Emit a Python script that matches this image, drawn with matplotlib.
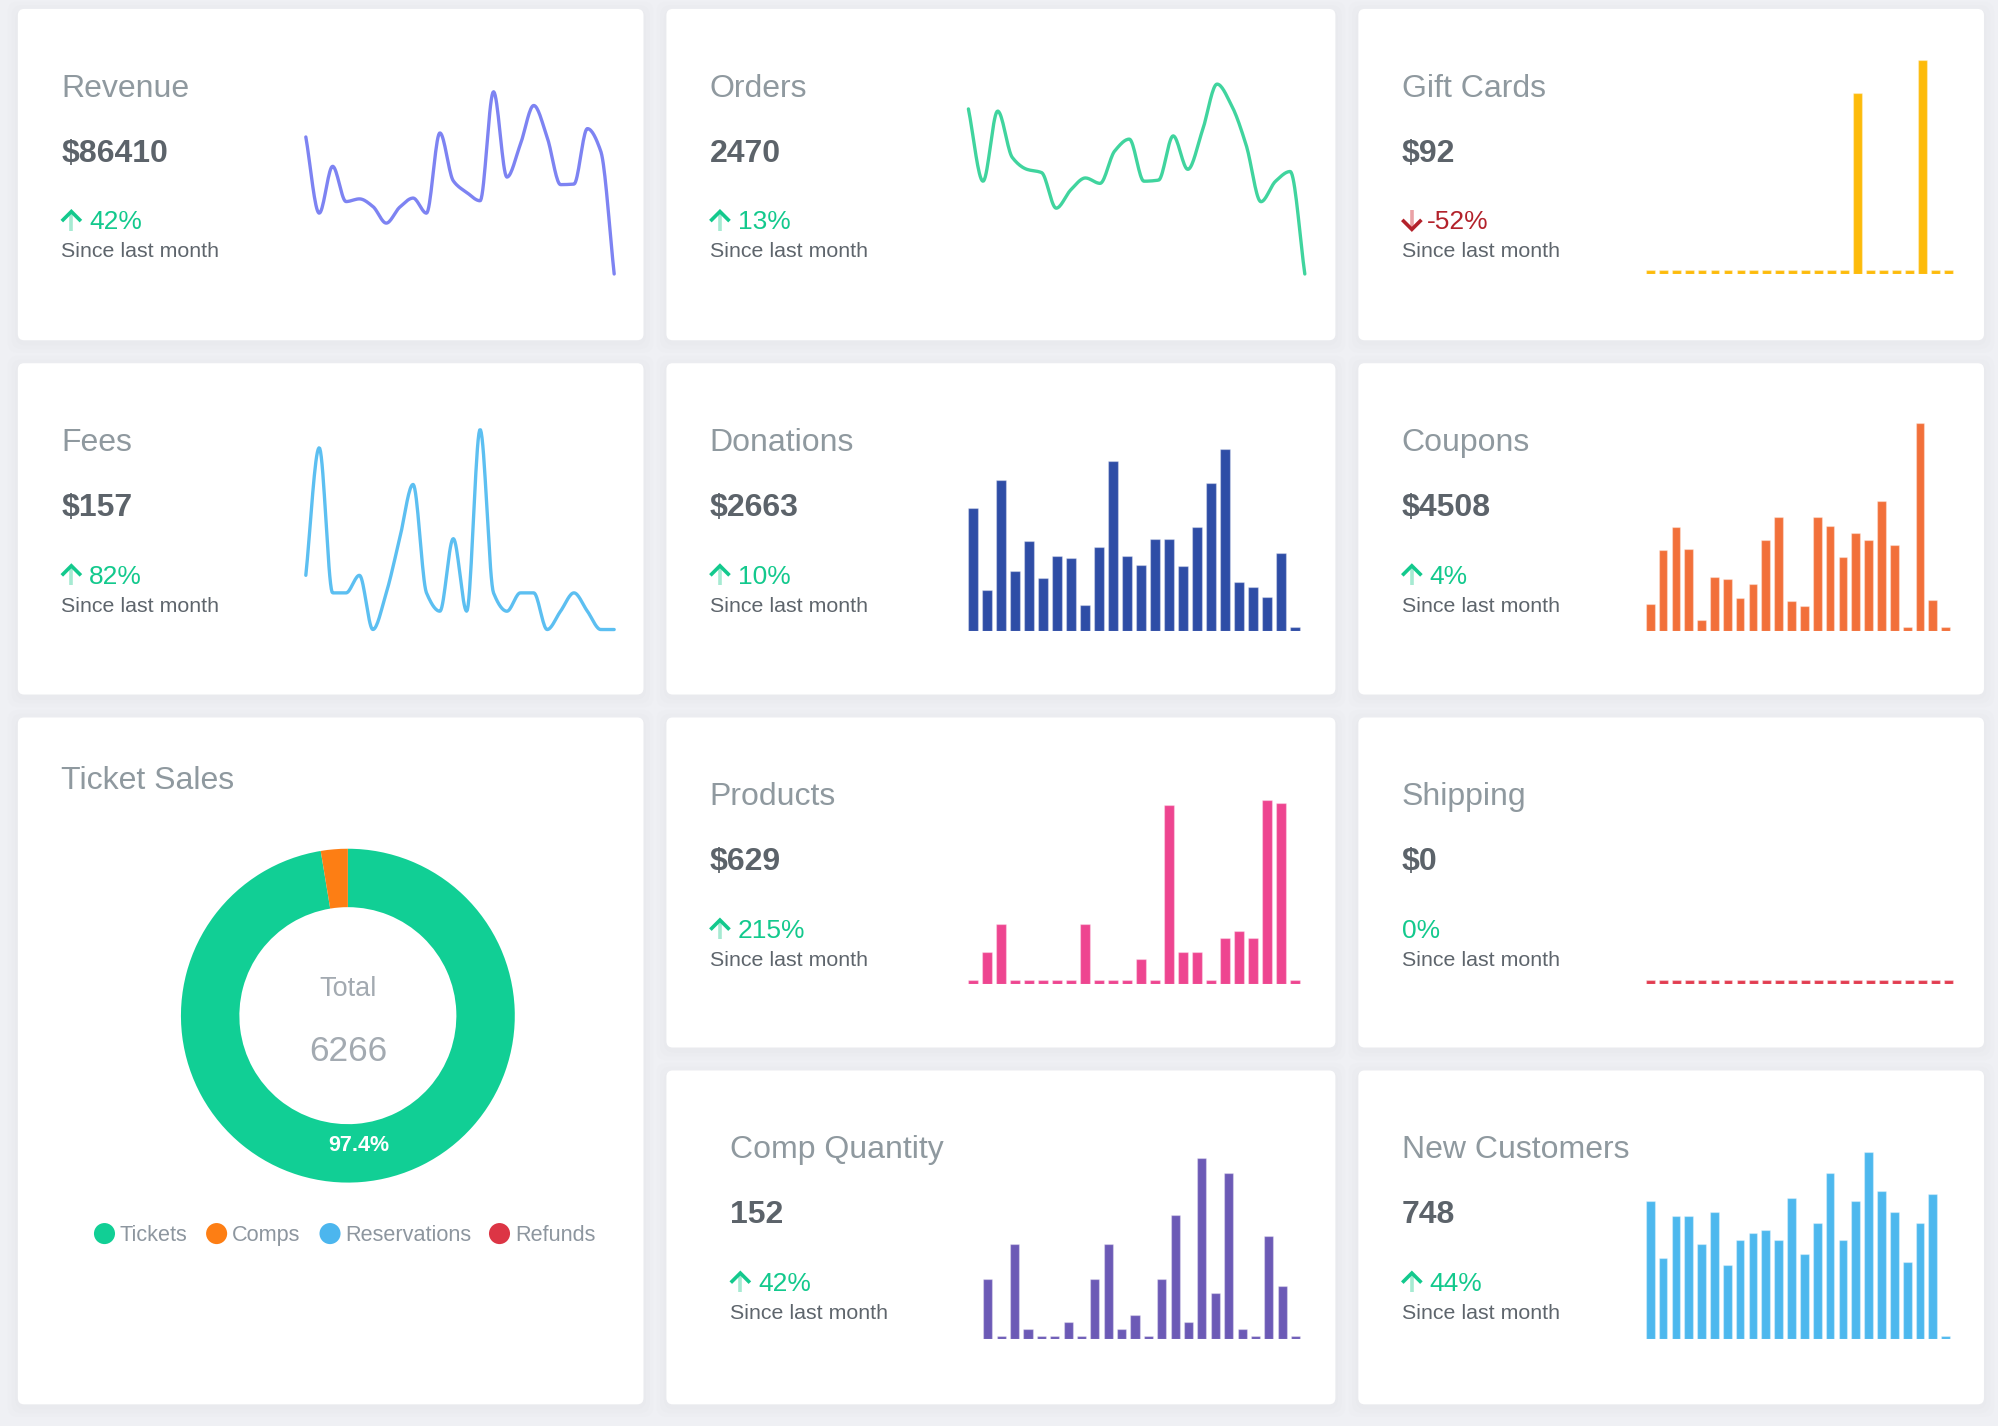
import numpy as np
import matplotlib
matplotlib.use("Agg")
import matplotlib.pyplot as plt
from matplotlib.patches import FancyBboxPatch

plt.rcParams['font.family'] = ['Liberation Sans', 'DejaVu Sans']

# ---------------- data ----------------
days = list(range(1, 25))
revenue = [5090, 2260, 4000, 2690, 2790, 2510, 1890, 2480, 2820, 2260, 5240, 3460,
           3030, 2720, 6770, 3600, 4810, 6260, 5080, 3320, 3340, 5400, 4560, 0]
orders = [153, 86, 151, 108, 97, 94, 61, 78, 89, 84, 114, 125,
          86, 87, 128, 97, 133, 176, 156, 119, 67, 86, 95, 0]
fees = [7.1, 23.8, 4.8, 4.8, 7.1, 0, 4.8, 11.9, 19.0, 4.8, 2.4, 11.9,
        2.4, 26.2, 4.8, 2.4, 4.8, 4.8, 0, 2.4, 4.8, 2.4, 0, 0]
gift_cards = [0, 0, 0, 0, 0, 0, 0, 0, 0, 0, 0, 0,
              0, 0, 0, 0, 42, 0, 0, 0, 0, 50, 0, 0]
donations = [168, 52, 208, 80, 122, 69, 101, 97, 31, 113, 234, 101,
             88, 125, 124, 86, 141, 203, 252, 64, 57, 43, 104, 0]
coupons = [63, 217, 281, 221, 20, 141, 136, 82, 121, 244, 309, 73,
           58, 309, 286, 196, 265, 246, 356, 231, 0, 576, 77, 0]
products = [0, 20, 40, 0, 0, 0, 0, 0, 40, 0, 0, 0,
            15, 0, 125, 20, 20, 0, 30, 35, 30, 128, 126, 0]
shipping = [0, 0, 0, 0, 0, 0, 0, 0, 0, 0, 0, 0,
            0, 0, 0, 0, 0, 0, 0, 0, 0, 0, 0, 0]
comp_quantity = [8, 0, 13, 1, 0, 0, 2, 0, 8, 13, 1, 3,
                 0, 8, 17, 2, 25, 6, 23, 1, 0, 14, 7, 0]
new_customers = [38, 22, 34, 34, 26, 35, 20, 27, 29, 30, 27, 39,
                 23, 32, 46, 27, 38, 52, 41, 35, 21, 32, 40, 0]

ticket_labels = ['Tickets', 'Comps', 'Reservations', 'Refunds']
ticket_values = [6103, 163, 0, 0]

kpi_titles = ['Revenue', 'Orders', 'Gift Cards', 'Fees', 'Donations', 'Coupons',
              'Products', 'Shipping', 'Comp Quantity', 'New Customers']
kpi_values = ['$86410', '2470', '$92', '$157', '$2663', '$4508',
              '$629', '$0', '152', '748']
kpi_changes = [42, 13, -52, 82, 10, 4, 215, 0, 42, 44]

# ---------------- styling ----------------
W, H = 1568.0, 1119.0
BG = '#eff0f4'
TITLE_C = '#8f999f'
VALUE_C = '#5c636a'
SUB_C = '#5e656c'
UP_C = '#13c98d'
UP_LIGHT = '#a6ead2'
DOWN_C = '#b3222b'
DOWN_LIGHT = '#eaa2a6'

fig = plt.figure(figsize=(19.98, 14.26), dpi=100)
fig.patch.set_facecolor(BG)

bg = fig.add_axes([0, 0, 1, 1], zorder=0)
bg.set_xlim(0, W)
bg.set_ylim(H, 0)
bg.axis('off')


def rect(x0, y0, x1, y1):
    return [x0 / W, 1 - y1 / H, (x1 - x0) / W, (y1 - y0) / H]


def card(x0, y0, x1, y1):
    for i, a in enumerate([0.025, 0.02, 0.015]):
        e = 2 + 3 * i
        bg.add_patch(FancyBboxPatch((x0 - e, y0 - e + 2), x1 - x0 + 2 * e, y1 - y0 + 2 * e,
                                    boxstyle='round,pad=0,rounding_size=8',
                                    fc='#9aa0b0', ec='none', alpha=a))
    bg.add_patch(FancyBboxPatch((x0, y0), x1 - x0, y1 - y0,
                                boxstyle='round,pad=0,rounding_size=5',
                                fc='white', ec='none'))


cols = [(14, 505), (523, 1048), (1066, 1557)]
rows = [(7, 267), (285, 545), (563, 822), (840, 1102)]

# card grid
for c in range(3):
    for r in range(4):
        if c == 0 and r >= 2:
            continue
        card(cols[c][0], rows[r][0], cols[c][1], rows[r][1])
card(cols[0][0], rows[2][0], cols[0][1], rows[3][1])


def up_arrow(x, yb):
    bg.plot([x + 8, x + 8], [yb + 1, yb - 14], color=UP_LIGHT, lw=2.6, solid_capstyle='butt')
    bg.plot([x + 1.5, x + 8, x + 14.5], [yb - 7.5, yb - 14, yb - 7.5], color=UP_C, lw=2.6,
            solid_joinstyle='miter')


def down_arrow(x, yb):
    bg.plot([x + 8, x + 8], [yb - 15, yb], color=DOWN_LIGHT, lw=2.6, solid_capstyle='butt')
    bg.plot([x + 1.5, x + 8, x + 14.5], [yb - 6.5, yb, yb - 6.5], color=DOWN_C, lw=2.6,
            solid_joinstyle='miter')


def kpi_text(x, top, title, value, change):
    bg.text(x, top + 69, title, fontsize=23, color=TITLE_C, va='baseline', ha='left')
    bg.text(x, top + 120, value, fontsize=23, color=VALUE_C, weight='bold', va='baseline', ha='left')
    yb = top + 173
    if change > 0:
        up_arrow(x, yb)
        bg.text(x + 22, yb, f'{change}%', fontsize=19, color=UP_C, va='baseline', ha='left')
    elif change < 0:
        down_arrow(x, yb)
        bg.text(x + 20, yb, f'{change}%', fontsize=19, color=DOWN_C, va='baseline', ha='left')
    else:
        bg.text(x, yb, f'{change}%', fontsize=19, color=UP_C, va='baseline', ha='left')
    bg.text(x, top + 195, 'Since last month', fontsize=15.4, color=SUB_C, va='baseline', ha='left')


text_pos = [(48, 7), (557, 7), (1100, 7),
            (48, 285), (557, 285), (1100, 285),
            (557, 563), (1100, 563),
            (573, 840), (1100, 840)]
for (x, top), t, v, ch in zip(text_pos, kpi_titles, kpi_values, kpi_changes):
    kpi_text(x, top, t, v, ch)


# ---------------- monotone cubic interpolation ----------------
def monotone(xv, yv, n=400):
    x = np.asarray(xv, float)
    y = np.asarray(yv, float)
    h = np.diff(x)
    d = np.diff(y) / h
    m = np.zeros_like(y)
    m[0], m[-1] = d[0], d[-1]
    for k in range(1, len(y) - 1):
        if d[k - 1] * d[k] <= 0:
            m[k] = 0.0
        else:
            w1 = 2 * h[k] + h[k - 1]
            w2 = h[k] + 2 * h[k - 1]
            m[k] = (w1 + w2) / (w1 / d[k - 1] + w2 / d[k])
    xs = np.linspace(x[0], x[-1], n)
    idx = np.clip(np.searchsorted(x, xs) - 1, 0, len(x) - 2)
    t = (xs - x[idx]) / h[idx]
    h00 = 2 * t ** 3 - 3 * t ** 2 + 1
    h10 = t ** 3 - 2 * t ** 2 + t
    h01 = -2 * t ** 3 + 3 * t ** 2
    h11 = t ** 3 - t ** 2
    ys = h00 * y[idx] + h10 * h[idx] * m[idx] + h01 * y[idx + 1] + h11 * h[idx] * m[idx + 1]
    return xs, ys


def line_chart(box, data, color):
    ax = fig.add_axes(rect(*box), zorder=2)
    ax.patch.set_alpha(0)
    xs, ys = monotone(days, data)
    ax.plot(xs, ys, color=color, lw=2.4, clip_on=False, solid_capstyle='round')
    ax.set_xlim(days[0], days[-1])
    ax.set_ylim(min(data), max(data))
    ax.axis('off')


def bar_chart(box, data, color):
    ax = fig.add_axes(rect(*box), zorder=2)
    ax.patch.set_alpha(0)
    vmax = max(data) if max(data) > 0 else 1
    ymin = -0.02 * vmax
    ax.bar(days, [v - ymin for v in data], bottom=ymin, width=0.68, color=color,
           edgecolor=(1, 1, 1, 0.35), linewidth=0.9)
    ax.set_xlim(days[0] - 0.5, days[-1] + 0.5)
    ax.set_ylim(ymin, vmax)
    ax.axis('off')


line_chart((240, 72, 482, 215), revenue, '#7d83f2')
line_chart((760, 66, 1024, 215), orders, '#40d49e')
line_chart((240, 337, 482, 494), fees, '#5cbff1')

bar_chart((1290, 47, 1534, 215), gift_cards, '#fdbb0a')
bar_chart((758, 352, 1022, 495), donations, '#2e4da6')
bar_chart((1290, 332, 1532, 495), coupons, '#f2703a')
bar_chart((758, 628, 1022, 772), products, '#ee4590')
bar_chart((1290, 620, 1534, 772), shipping, '#e23c50')
bar_chart((770, 909, 1022, 1051), comp_quantity, '#6c5ab6')
bar_chart((1290, 904, 1532, 1051), new_customers, '#4db8ee')

# ---------------- Ticket Sales donut ----------------
bg.text(48, 619, 'Ticket Sales', fontsize=23, color=TITLE_C, va='baseline', ha='left')
pie_colors = ['#11cf95', '#fd7e14', '#4cb6ee', '#dc3545']
axp = fig.add_axes(rect(142, 666, 404, 928), zorder=2)
axp.pie(ticket_values, colors=pie_colors, startangle=90, counterclock=False,
        wedgeprops=dict(width=0.35, linewidth=0),
        autopct=lambda p: f'{p:.1f}%' if p > 5 else '', pctdistance=0.78,
        textprops=dict(color='white', weight='bold', fontsize=15.5))
axp.set_xlim(-1, 1)
axp.set_ylim(-1, 1)
axp.set_aspect('equal')
axp.axis('off')
bg.text(273, 776, 'Total', fontsize=19.5, color='#a3aab1', ha='center', va='center')
bg.text(273, 825, f'{sum(ticket_values)}', fontsize=25.5, color='#a3aab1', ha='center', va='center')

legend_x = [82, 170, 259, 392]
for lx, lab, col in zip(legend_x, ticket_labels, pie_colors):
    bg.scatter([lx], [968], s=230, color=col, edgecolors='none', zorder=3)
    bg.text(lx + 12, 969.5, lab, fontsize=15.6, color='#8d969f', ha='left', va='center')

fig.savefig('out.png', dpi=100, facecolor=BG)
